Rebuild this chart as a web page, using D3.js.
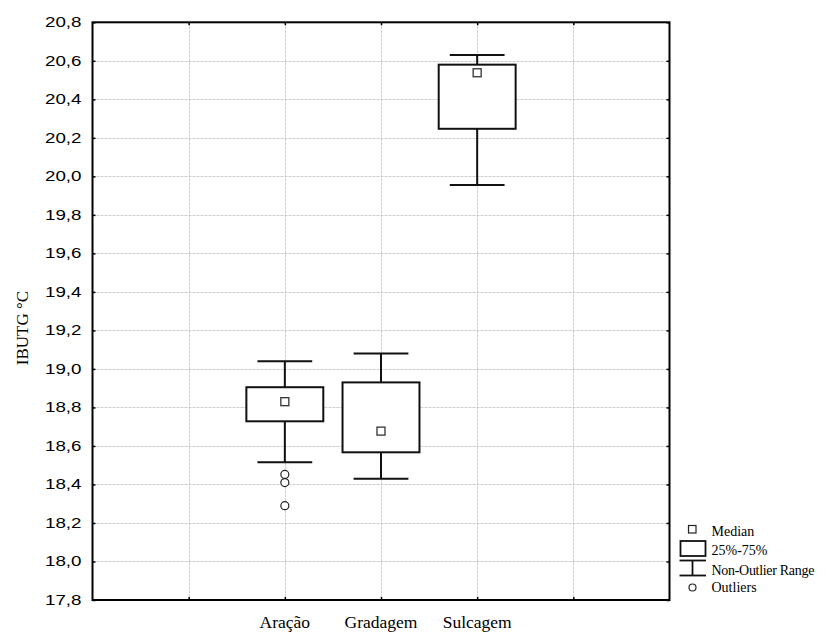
<!DOCTYPE html>
<html>
<head>
<meta charset="utf-8">
<script src="https://cdn.jsdelivr.net/npm/d3@7"></script>
<style>
  body { margin: 0; background: #fff; }
  svg { display: block; }
</style>
</head>
<body>
<svg width="828" height="633"></svg>
<script>
// chart values
const categories = ["Aração", "Gradagem", "Sulcagem"];
const catPos = [2, 3, 4];
const whiskerLow = [18.515, 18.43, 19.955];
const q1 = [18.728, 18.567, 20.247];
const median = [18.83, 18.677, 20.538];
const q3 = [18.905, 18.93, 20.58];
const whiskerHigh = [19.04, 19.08, 20.63];
const outliers = [[18.452, 18.41, 18.29], [], []];
const yTicks = [17.8, 18.0, 18.2, 18.4, 18.6, 18.8, 19.0, 19.2, 19.4, 19.6, 19.8, 20.0, 20.2, 20.4, 20.6, 20.8];
const xGrid = [1, 2, 3, 4, 5];
const legendItems = ["Median", "25%-75%", "Non-Outlier Range", "Outliers"];

const svg = d3.select("svg");
const margin = {left: 92.5, top: 22.3, right: 669.5, bottom: 600};

const x = d3.scaleLinear().domain([0, 6]).range([margin.left, margin.right]);
const y = d3.scaleLinear().domain([17.8, 20.8]).range([margin.bottom, margin.top]);
const band = x(1) - x(0);
const fmt = d => d.toFixed(1).replace(".", ",");

// grid
const grid = svg.append("g")
  .attr("stroke", "#cdcdcd")
  .attr("stroke-width", 1)
  .attr("stroke-dasharray", "3,1");
grid.selectAll(".h")
  .data(yTicks.slice(1, -1))
  .enter().append("line")
    .attr("x1", margin.left).attr("x2", margin.right)
    .attr("y1", d => Math.round(y(d)) + 0.5)
    .attr("y2", d => Math.round(y(d)) + 0.5);
grid.selectAll(".v")
  .data(xGrid)
  .enter().append("line")
    .attr("y1", margin.top).attr("y2", margin.bottom)
    .attr("x1", d => Math.round(x(d)) + 0.5)
    .attr("x2", d => Math.round(x(d)) + 0.5);

// axes (inward ticks on all four sides)
svg.append("g")
  .attr("transform", `translate(${margin.left},0)`)
  .call(d3.axisRight(y).tickValues(yTicks).tickSize(3).tickFormat(""))
  .call(g => g.select(".domain").remove());
svg.append("g")
  .attr("transform", `translate(${margin.right},0)`)
  .call(d3.axisLeft(y).tickValues(yTicks).tickSize(3).tickFormat(""))
  .call(g => g.select(".domain").remove());
svg.append("g")
  .attr("transform", `translate(0,${margin.bottom})`)
  .call(d3.axisTop(x).tickValues(xGrid).tickSize(3).tickFormat(""))
  .call(g => g.select(".domain").remove());
svg.append("g")
  .attr("transform", `translate(0,${margin.top})`)
  .call(d3.axisBottom(x).tickValues(xGrid).tickSize(3).tickFormat(""))
  .call(g => g.select(".domain").remove());
svg.selectAll(".tick line").attr("stroke", "#000").attr("stroke-width", 1.5);

svg.append("rect")
  .attr("x", margin.left).attr("y", margin.top)
  .attr("width", margin.right - margin.left)
  .attr("height", margin.bottom - margin.top)
  .attr("fill", "none").attr("stroke", "#000").attr("stroke-width", 2);

// y tick labels
svg.append("g")
  .selectAll("text")
  .data(yTicks)
  .enter().append("text")
    .attr("x", 81.5)
    .attr("y", d => y(d) + 5)
    .attr("text-anchor", "end")
    .attr("font-family", "Liberation Sans, Arial, sans-serif")
    .attr("font-size", 14)
    .attr("textLength", 36.5)
    .attr("lengthAdjust", "spacingAndGlyphs")
    .text(fmt);

// x labels
svg.append("g")
  .selectAll("text")
  .data(categories)
  .enter().append("text")
    .attr("x", (d, i) => x(catPos[i]))
    .attr("y", 628)
    .attr("text-anchor", "middle")
    .attr("font-family", "Liberation Serif, Times New Roman, serif")
    .attr("font-size", 17.5)
    .text(d => d);

// y title
svg.append("text")
  .attr("transform", "translate(28,328) rotate(-90)")
  .attr("text-anchor", "middle")
  .attr("font-family", "Liberation Serif, Times New Roman, serif")
  .attr("font-size", 17)
  .text("IBUTG °C");

// boxes
const boxes = svg.append("g").selectAll("g")
  .data(categories)
  .enter().append("g");

boxes.append("line")
  .attr("x1", (d, i) => x(catPos[i])).attr("x2", (d, i) => x(catPos[i]))
  .attr("y1", (d, i) => y(whiskerHigh[i])).attr("y2", (d, i) => y(q3[i]))
  .attr("stroke", "#111").attr("stroke-width", 2);
boxes.append("line")
  .attr("x1", (d, i) => x(catPos[i])).attr("x2", (d, i) => x(catPos[i]))
  .attr("y1", (d, i) => y(q1[i])).attr("y2", (d, i) => y(whiskerLow[i]))
  .attr("stroke", "#111").attr("stroke-width", 2);
[whiskerHigh, whiskerLow].forEach(arr => {
  boxes.append("line")
    .attr("x1", (d, i) => x(catPos[i] - 0.285)).attr("x2", (d, i) => x(catPos[i] + 0.285))
    .attr("y1", (d, i) => y(arr[i])).attr("y2", (d, i) => y(arr[i]))
    .attr("stroke", "#111").attr("stroke-width", 2);
});
boxes.append("rect")
  .attr("x", (d, i) => x(catPos[i] - 0.4))
  .attr("width", band * 0.8)
  .attr("y", (d, i) => y(q3[i]))
  .attr("height", (d, i) => y(q1[i]) - y(q3[i]))
  .attr("fill", "#fff").attr("stroke", "#111").attr("stroke-width", 2);
boxes.append("rect")
  .attr("x", (d, i) => x(catPos[i]) - 4)
  .attr("y", (d, i) => y(median[i]) - 4)
  .attr("width", 8).attr("height", 8)
  .attr("fill", "#fff").attr("stroke", "#333").attr("stroke-width", 1.3);
boxes.selectAll("circle")
  .data((d, i) => outliers[i].map(v => ({v: v, p: catPos[i]})))
  .enter().append("circle")
    .attr("cx", d => x(d.p))
    .attr("cy", d => y(d.v))
    .attr("r", 4)
    .attr("fill", "#fff").attr("stroke", "#222").attr("stroke-width", 1.2);

// legend
const lg = svg.append("g");
const lx = 692.5;
lg.append("rect").attr("x", lx - 4).attr("y", 525.5).attr("width", 7.5).attr("height", 7.5)
  .attr("fill", "#fff").attr("stroke", "#222").attr("stroke-width", 1.2);
lg.append("rect").attr("x", 680.5).attr("y", 541).attr("width", 25).attr("height", 15)
  .attr("fill", "#fff").attr("stroke", "#111").attr("stroke-width", 1.8);
lg.append("line").attr("x1", 679.5).attr("x2", 706).attr("y1", 560.5).attr("y2", 560.5)
  .attr("stroke", "#111").attr("stroke-width", 1.8);
lg.append("line").attr("x1", 679.5).attr("x2", 706).attr("y1", 575.5).attr("y2", 575.5)
  .attr("stroke", "#111").attr("stroke-width", 1.8);
lg.append("line").attr("x1", lx).attr("x2", lx).attr("y1", 560.5).attr("y2", 575.5)
  .attr("stroke", "#111").attr("stroke-width", 1.8);
lg.append("circle").attr("cx", lx).attr("cy", 587.5).attr("r", 3.5)
  .attr("fill", "#fff").attr("stroke", "#222").attr("stroke-width", 1.2);
lg.selectAll("text")
  .data(legendItems)
  .enter().append("text")
    .attr("x", 711.5)
    .attr("y", (d, i) => [535.5, 555, 575, 592][i])
    .attr("font-family", "Liberation Serif, Times New Roman, serif")
    .attr("font-size", 14)
    .attr("letter-spacing", (d, i) => i === 2 ? -0.3 : 0)
    .text(d => d);
</script>
</body>
</html>
